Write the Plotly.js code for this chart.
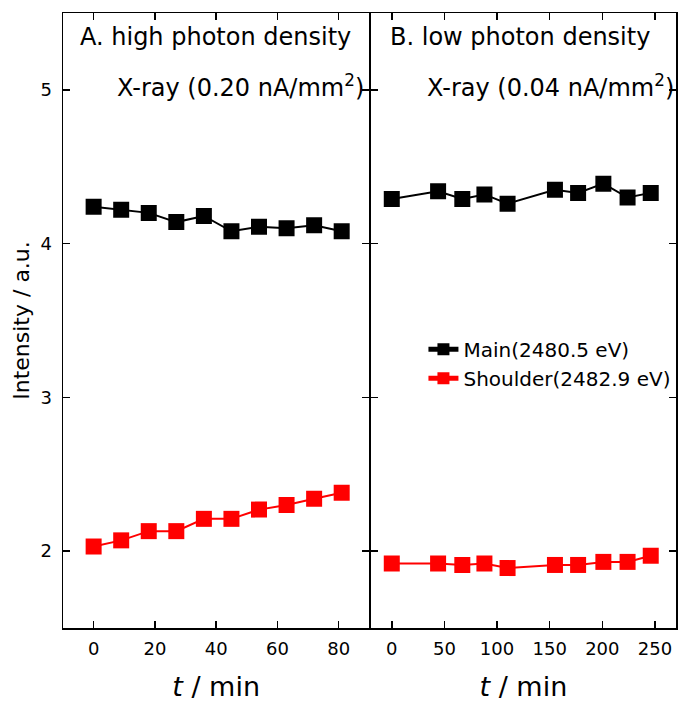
<!DOCTYPE html>
<html>
<head>
<meta charset="utf-8">
<script src="https://cdn.plot.ly/plotly-3.0.1.min.js"></script>
<style>html,body{margin:0;padding:0;background:#fff;}#chart{width:678px;height:702px;}</style>
</head>
<body>
<div id="chart"></div>
<script>
// Panel A: high photon density (0.20 nA/mm2)
const tA = [0, 9, 18, 27, 36, 45, 54, 63, 72, 81];
const mainA = [4.24, 4.22, 4.20, 4.14, 4.18, 4.08, 4.11, 4.10, 4.12, 4.08];
const shoulderA = [2.03, 2.07, 2.13, 2.13, 2.21, 2.21, 2.27, 2.30, 2.34, 2.38];
// Panel B: low photon density (0.04 nA/mm2)
const tB = [0, 44, 67, 88, 110, 155, 177, 201, 224, 246];
const mainB = [4.29, 4.34, 4.29, 4.32, 4.26, 4.35, 4.33, 4.39, 4.30, 4.33];
const shoulderB = [1.92, 1.92, 1.91, 1.92, 1.89, 1.91, 1.91, 1.93, 1.93, 1.97];
const seriesNames = ["Main(2480.5 eV)", "Shoulder(2482.9 eV)"];
const panelTitles = ["A. high photon density", "B. low photon density"];
const doseLabels = ["X-ray (0.20 nA/mm<sup>2</sup>)", "X-ray (0.04 nA/mm<sup>2</sup>)"];
const ticksA = [0, 20, 40, 60, 80];
const ticksB = [0, 50, 100, 150, 200, 250];
const ticksY = [2, 3, 4, 5];

const FONT = "DejaVu Sans, Arial, sans-serif";
const mk = (color) => ({symbol: "square", size: 16, color: color});
const ln = (color) => ({color: color, width: 2});

const traces = [
  {x: tA, y: mainA, xaxis: "x", yaxis: "y", mode: "lines+markers", name: seriesNames[0], showlegend: false, marker: mk("#000000"), line: ln("#000000")},
  {x: tA, y: shoulderA, xaxis: "x", yaxis: "y", mode: "lines+markers", name: seriesNames[1], showlegend: false, marker: mk("#ff0000"), line: ln("#ff0000")},
  {x: tB, y: mainB, xaxis: "x2", yaxis: "y2", mode: "lines+markers", name: seriesNames[0], marker: mk("#000000"), line: ln("#000000")},
  {x: tB, y: shoulderB, xaxis: "x2", yaxis: "y2", mode: "lines+markers", name: seriesNames[1], marker: mk("#ff0000"), line: ln("#ff0000")}
];

const axisCommon = {
  showline: true, linecolor: "#000", linewidth: 1.5, mirror: "ticks",
  ticks: "inside", ticklen: 7, tickwidth: 1.5, tickcolor: "#000",
  showgrid: false, zeroline: false,
  tickfont: {family: FONT, size: 18, color: "#000"}
};
const xTitle = {text: "<i>t</i> / min", font: {family: FONT, size: 27, color: "#000"}, standoff: 20};

const layout = {
  width: 678, height: 702,
  margin: {l: 63, r: 2, t: 13, b: 74},
  paper_bgcolor: "#fff", plot_bgcolor: "#fff",
  font: {family: FONT, color: "#000"},
  showlegend: true,
  legend: {x: 0.588, y: 0.485, xanchor: "left", yanchor: "top", bgcolor: "rgba(0,0,0,0)",
           font: {family: FONT, size: 20, color: "#000"}, itemsizing: "constant", tracegroupgap: 0},
  xaxis: Object.assign({}, axisCommon, {domain: [0, 0.4996], range: [-10, 90], tickvals: ticksA, ticklabelstandoff: 4,
    anchor: "y", title: xTitle}),
  xaxis2: Object.assign({}, axisCommon, {domain: [0.5020, 1], range: [-20, 270], tickvals: ticksB, ticklabelstandoff: 4,
    anchor: "y2", title: xTitle}),
  yaxis: Object.assign({}, axisCommon, {range: [1.5, 5.5], tickvals: ticksY, anchor: "x", ticklabelstandoff: 6,
    title: {text: "Intensity / a.u.", font: {family: FONT, size: 22, color: "#000"}, standoff: 4}}),
  yaxis2: Object.assign({}, axisCommon, {range: [1.5, 5.5], tickvals: ticksY, anchor: "x2", matches: "y", showticklabels: false}),
  annotations: [
    {xref: "paper", yref: "paper", x: (78 - 63) / 613, y: 0.961, xanchor: "left", yanchor: "middle", showarrow: false,
     text: panelTitles[0], font: {family: FONT, size: 24, color: "#000"}},
    {xref: "paper", yref: "paper", x: (115 - 63) / 613, y: 0.881, xanchor: "left", yanchor: "middle", showarrow: false,
     text: doseLabels[0], font: {family: FONT, size: 24, color: "#000"}},
    {xref: "paper", yref: "paper", x: (388 - 63) / 613, y: 0.961, xanchor: "left", yanchor: "middle", showarrow: false,
     text: panelTitles[1], font: {family: FONT, size: 24, color: "#000"}},
    {xref: "paper", yref: "paper", x: (425 - 63) / 613, y: 0.881, xanchor: "left", yanchor: "middle", showarrow: false,
     text: doseLabels[1], font: {family: FONT, size: 24, color: "#000"}}
  ]
};

Plotly.newPlot("chart", traces, layout, {displayModeBar: false, staticPlot: true});
</script>
</body>
</html>
